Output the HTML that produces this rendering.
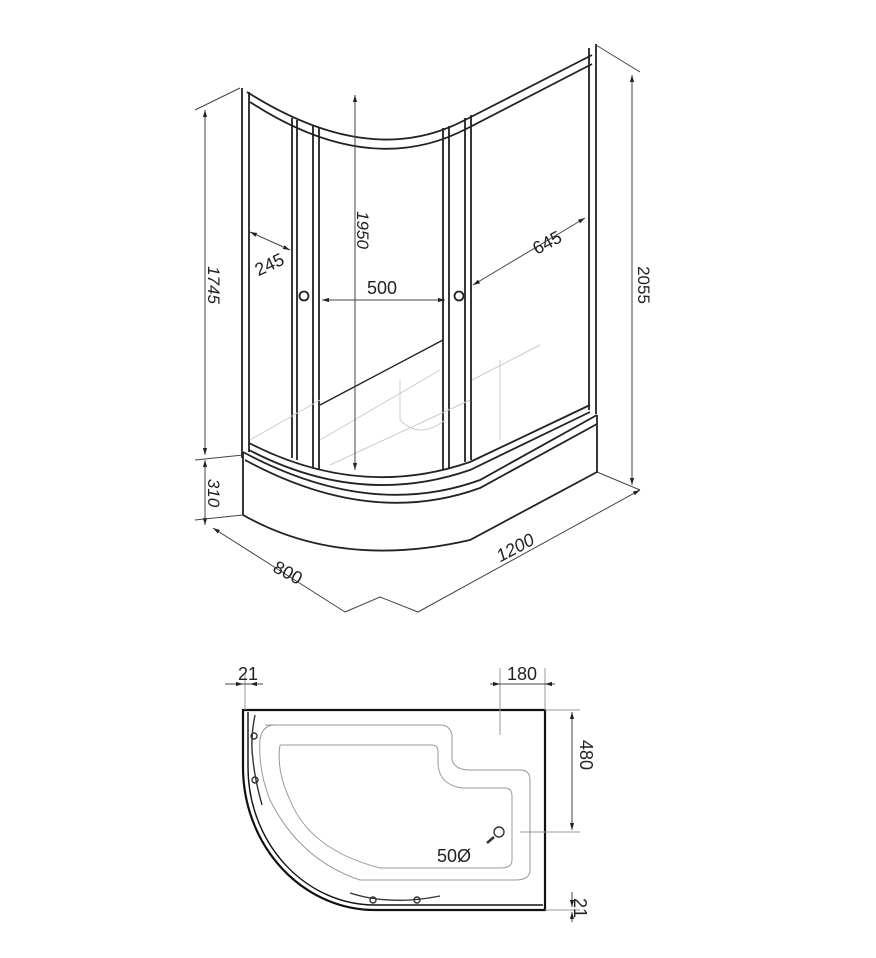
<!DOCTYPE html>
<html><head><meta charset="utf-8"><style>
html,body{margin:0;padding:0;background:#fff;}
svg{display:block;}
text{font-family:"Liberation Sans",sans-serif;fill:#222;}
</style></head><body>
<svg width="876" height="958" viewBox="0 0 876 958" xmlns="http://www.w3.org/2000/svg">
<defs>
<marker id="a" viewBox="0 0 10 10" refX="10" refY="5" markerWidth="7" markerHeight="7" orient="auto-start-reverse"><path d="M0,2 L10,5 L0,8 z" fill="#222"/></marker>
</defs>
<g fill="none" stroke="#222" stroke-width="1.8">
<!-- frame verticals -->
<path d="M242,88 V458 M249,92 V452"/>
<path d="M589,48 V410 M596,44 V414"/>
<!-- top curved rail -->
<path d="M247,92 Q370,170 465,120 L592,55"/>
<path d="M250,102 Q370,180 468,128 L592,64"/>
<!-- door stiles -->
<path d="M292,118 V458 M297,120 V460 M313,125 V468 M319,127 V470"/>
<path d="M443,128 V470 M449,126 V468 M465,118 V462 M471,115 V460"/>
<!-- handles -->
<circle cx="304" cy="296" r="4.5"/><circle cx="459" cy="296" r="4.5"/>
<!-- bottom rail -->
<path d="M249,443 Q360,500 470,462 L590,405"/>
<path d="M249,450 Q360,508 470,470 L590,412"/>
<!-- tray -->
<path d="M243,452 Q370,520 480,480 L597,415"/>
<path d="M245,460 Q370,528 480,488 L597,424"/>
<path d="M243,452 V515 M597,415 V472"/>
<path d="M243,515 Q340,570 470,540 L597,472"/>
<path d="M320,405 L443,340" stroke-width="1.4"/>
</g>
<g fill="none" stroke="#ccc" stroke-width="1">
<path d="M320,440 L440,370 M400,380 V420 Q420,440 445,420 M250,440 L320,400 M472,380 L540,345 M500,360 V440"/>
<path d="M330,465 L470,400"/>
</g>
<g fill="none" stroke="#444" stroke-width="1">
<path d="M205,110 V455" marker-start="url(#a)" marker-end="url(#a)"/>
<path d="M205,460 V525" marker-start="url(#a)" marker-end="url(#a)"/>
<path d="M195,110 L240,88 M195,520 L243,515 M195,460 L243,455"/>
<path d="M632,75 V485" marker-start="url(#a)" marker-end="url(#a)"/>
<path d="M596,45 L640,72 M597,472 L640,490"/>
<path d="M355,95 V470" marker-start="url(#a)" marker-end="url(#a)"/>
<path d="M322,300 H445" marker-start="url(#a)" marker-end="url(#a)"/>
<path d="M250,232 L290,250" marker-start="url(#a)" marker-end="url(#a)"/>
<path d="M473,285 L585,218" marker-start="url(#a)" marker-end="url(#a)"/>
<path d="M213,528 L345,612" marker-start="url(#a)"/>
<path d="M345,612 L380,597 L418,612"/>
<path d="M418,612 L640,490" marker-end="url(#a)"/>
</g>
<text x="382" y="294" font-size="18" text-anchor="middle">500</text>
<text transform="translate(357,230) rotate(90)" font-size="17" font-style="italic" text-anchor="middle">1950</text>
<text transform="translate(208,285) rotate(90)" font-size="17" font-style="italic" text-anchor="middle">1745</text>
<text transform="translate(208,493) rotate(90)" font-size="17" font-style="italic" text-anchor="middle">310</text>
<text transform="translate(638,285) rotate(90)" font-size="17" text-anchor="middle">2055</text>
<text transform="translate(272,270) rotate(-25)" font-size="18" text-anchor="middle">245</text>
<text transform="translate(550,248) rotate(-28)" font-size="18" text-anchor="middle">645</text>
<text transform="translate(285,578) rotate(28)" font-size="18" text-anchor="middle">800</text>
<text transform="translate(518,553) rotate(-28)" font-size="18" font-style="italic" text-anchor="middle">1200</text>

<g fill="none" stroke="#111" stroke-width="2.2">
<path d="M243,710 H545 V910 H375 A132,143 0 0 1 243,767 Z"/>
<path d="M248,712 V767 A127,138 0 0 0 375,905 H543" stroke-width="1.4"/>
</g>
<g fill="none" stroke="#999" stroke-width="1">
<path d="M265,725 H440 Q450,725 452,735 V760 Q455,770 470,770 H520 Q530,770 530,780 V870 Q530,880 515,880 H360 Q300,860 270,800 Q258,770 260,740 Q262,725 275,725"/>
<path d="M280,745 H432 Q438,745 438,752 V765 Q440,785 462,788 H505 Q512,788 512,796 V860 Q512,868 500,868 H380 Q310,850 290,800 Q276,770 280,745"/>
<path d="M245,710 V673 M500,735 V668 M545,710 V668 M545,710 H580 M520,832 H580 M545,910 H580"/>
</g>
<g fill="none" stroke="#333" stroke-width="1.4">
<path d="M255,715 Q250,740 253,760 Q255,780 262,805"/>
<path d="M350,893 Q390,906 440,896"/>
<circle cx="254" cy="736" r="3"/><circle cx="255" cy="780" r="3"/><circle cx="373" cy="900" r="3"/><circle cx="417" cy="900" r="3"/>
<circle cx="499" cy="832" r="5"/>
<path d="M494,837 L487,843" stroke-width="2.5"/>
</g>
<g fill="none" stroke="#444" stroke-width="1">
<path d="M225,684 H263"/><path d="M233,684 h10" marker-end="url(#a)"/><path d="M260,684 h-10" marker-end="url(#a)"/>
<path d="M500,684 H545"/><path d="M490,684 h10" marker-end="url(#a)"/><path d="M555,684 h-10" marker-end="url(#a)"/>
<path d="M572,712 V830" marker-start="url(#a)" marker-end="url(#a)"/>
<path d="M572,892 v15" marker-end="url(#a)"/><path d="M572,922 v-10" marker-end="url(#a)"/>
</g>
<text x="248" y="680" font-size="18" text-anchor="middle">21</text>
<text x="522" y="680" font-size="18" text-anchor="middle">180</text>
<text transform="translate(580,755) rotate(90)" font-size="18" text-anchor="middle">480</text>
<text transform="translate(574,908) rotate(90)" font-size="18" text-anchor="middle">21</text>
<text x="437" y="862" font-size="18">50Ø</text>
</svg>
</body></html>
